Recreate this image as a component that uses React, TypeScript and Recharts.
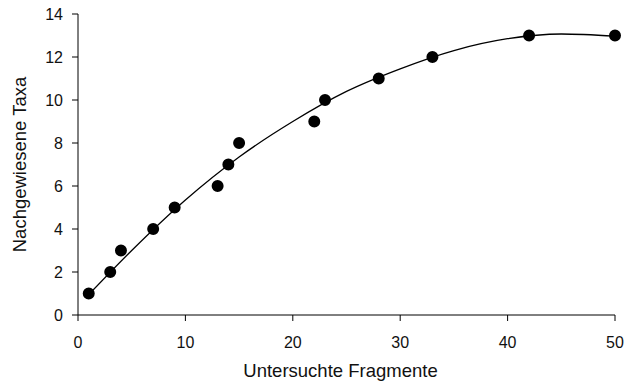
import {
  ComposedChart,
  Scatter,
  Line,
  XAxis,
  YAxis,
  ZAxis,
  Label,
} from "recharts";

// observed (fragments, taxa)
const fragments = [1, 3, 4, 7, 9, 13, 14, 15, 22, 23, 28, 33, 42, 50];
const taxa = [1, 2, 3, 4, 5, 6, 7, 8, 9, 10, 11, 12, 13, 13];

// fitted curve
const fitX = [1, 5, 10, 15, 20, 25, 30, 35, 40, 45, 50];
const fitY = [0.95, 3.0, 5.35, 7.35, 9.0, 10.4, 11.45, 12.3, 12.85, 13.07, 12.97];

const xTicks = [0, 10, 20, 30, 40, 50];
const yTicks = [0, 2, 4, 6, 8, 10, 12, 14];

const points = fragments.map((x, i) => ({ x, y: taxa[i] }));
const fit = fitX.map((x, i) => ({ x, y: fitY[i] }));

const font = "'Liberation Sans', Arial, sans-serif";

export default function App() {
  return (
    <div style={{ position: "absolute", left: 0, top: 0 }}>
      <ComposedChart
        width={631}
        height={385}
        margin={{ top: 14, right: 16, left: 0, bottom: 0 }}
        style={{ fontFamily: font }}
      >
        <XAxis
          type="number"
          dataKey="x"
          domain={[0, 50]}
          ticks={xTicks}
          height={70}
          stroke="#000"
          tickSize={6}
          tickMargin={16}
          tick={{ fill: "#111", fontSize: 16 }}
        >
          <Label
            value="Untersuchte Fragmente"
            position="insideBottom"
            offset={8}
            dx={-6}
            style={{ fontSize: 18.5, fill: "#111" }}
          />
        </XAxis>
        <YAxis
          type="number"
          dataKey="y"
          domain={[0, 14]}
          ticks={yTicks}
          width={78}
          stroke="#000"
          tickSize={6}
          tickMargin={9}
          tick={{ fill: "#111", fontSize: 16 }}
        >
          <Label
            value="Nachgewiesene Taxa"
            position="insideLeft"
            angle={-90}
            offset={19}
            style={{ fontSize: 18.5, fill: "#111", textAnchor: "middle" }}
          />
        </YAxis>
        <ZAxis range={[113, 113]} />
        <Line
          data={fit}
          dataKey="y"
          type="monotone"
          stroke="#000"
          strokeWidth={1.3}
          dot={false}
          activeDot={false}
          isAnimationActive={false}
        />
        <Scatter data={points} fill="#000" isAnimationActive={false} />
      </ComposedChart>
    </div>
  );
}
